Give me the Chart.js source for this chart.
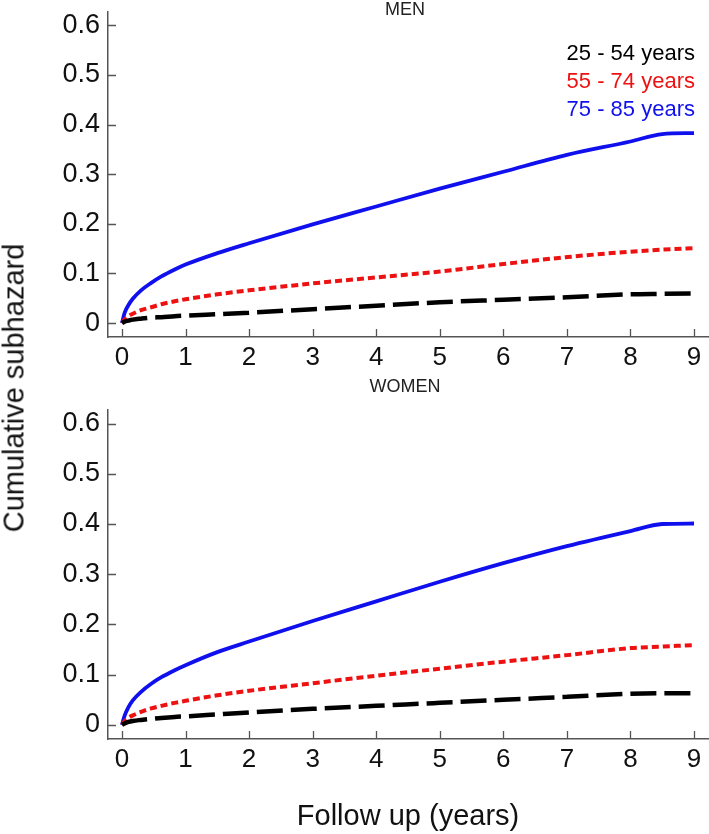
<!DOCTYPE html>
<html>
<head>
<meta charset="utf-8">
<script src="https://cdn.jsdelivr.net/npm/chart.js@4.4.1/dist/chart.umd.min.js"></script>
<style>
  html, body { margin: 0; padding: 0; background: #fff; }
  #wrap { position: relative; width: 709px; height: 834px; }
  .panel { position: absolute; left: 0; width: 709px; }
  #men-box { top: 0; height: 380px; }
  #women-box { top: 360px; height: 474px; }
  #ytitle {
    position: absolute; left: 14px; top: 388px;
    transform: translate(-50%, -50%) rotate(-90deg);
    font: 29px "Liberation Sans", Arial, sans-serif; color: #111; white-space: nowrap;
  }
</style>
</head>
<body>
<div id="wrap">
  <div class="panel" id="men-box"><canvas id="men-chart"></canvas></div>
  <div class="panel" id="women-box"><canvas id="women-chart"></canvas></div>
  <div id="ytitle">Cumulative subhazard</div>
</div>
<script>
// --- Data ---
const years = [0, 0.04, 0.1, 0.17, 0.3, 0.46, 0.62, 0.83, 1, 1.5, 2, 3, 4, 5, 6, 7, 8, 8.5, 9];
const ageGroups = ['25 - 54 years', '55 - 74 years', '75 - 85 years'];

const men2554 = [0, 0.003, 0.005, 0.007, 0.009, 0.011, 0.012, 0.014, 0.015, 0.018, 0.021, 0.028, 0.035, 0.042, 0.047, 0.052, 0.058, 0.059, 0.060];
const men5574 = [0, 0.007, 0.014, 0.019, 0.026, 0.032, 0.038, 0.044, 0.048, 0.058, 0.066, 0.080, 0.092, 0.104, 0.119, 0.133, 0.144, 0.148, 0.151];
const men7585 = [0, 0.020, 0.036, 0.049, 0.066, 0.081, 0.094, 0.108, 0.118, 0.141, 0.161, 0.199, 0.235, 0.271, 0.305, 0.339, 0.366, 0.381, 0.383];

const women2554 = [0, 0.003, 0.006, 0.008, 0.010, 0.012, 0.014, 0.016, 0.017, 0.021, 0.025, 0.032, 0.038, 0.044, 0.050, 0.056, 0.062, 0.063, 0.063];
const women5574 = [0, 0.007, 0.014, 0.019, 0.026, 0.033, 0.038, 0.044, 0.048, 0.059, 0.068, 0.083, 0.098, 0.112, 0.126, 0.139, 0.153, 0.156, 0.159];
const women7585 = [0, 0.018, 0.035, 0.049, 0.066, 0.082, 0.095, 0.109, 0.119, 0.145, 0.166, 0.207, 0.246, 0.285, 0.322, 0.356, 0.386, 0.400, 0.401];

const xTicks = [0, 1, 2, 3, 4, 5, 6, 7, 8, 9];
const yTicks = [0, 0.1, 0.2, 0.3, 0.4, 0.5, 0.6];

// line looks per age group
const lineColors = ['#000000', '#ee1111', '#1010ee'];
const lineDashes = [[26, 8], [7, 4], []];
const lineWidths = [4.5, 4, 3.8];

const FONT = '"Liberation Sans", Arial, sans-serif';
const AXIS_COLOR = '#555';

// tick marks pointing into the plot, like the original figure
const inwardTicks = {
    id: 'inwardTicks',
    afterDatasetsDraw(chart) {
        const { ctx, chartArea, scales } = chart;
        ctx.save();
        ctx.strokeStyle = AXIS_COLOR;
        ctx.lineWidth = 1.3;
        ctx.beginPath();
        scales.x.ticks.forEach(t => {
            const px = Math.round(scales.x.getPixelForValue(t.value)) + 0.5;
            ctx.moveTo(px, chartArea.bottom);
            ctx.lineTo(px, chartArea.bottom - 8);
        });
        scales.y.ticks.forEach(t => {
            const py = Math.round(scales.y.getPixelForValue(t.value)) + 0.5;
            ctx.moveTo(chartArea.left, py);
            ctx.lineTo(chartArea.left + 8, py);
        });
        ctx.stroke();
        ctx.restore();
    }
};

// panel title + in-plot legend text
const panelText = {
    id: 'panelText',
    afterDraw(chart, args, opts) {
        const { ctx, chartArea } = chart;
        ctx.save();
        ctx.font = '18px ' + FONT;
        ctx.fillStyle = '#222';
        ctx.textAlign = 'center';
        ctx.textBaseline = 'alphabetic';
        ctx.fillText(opts.title, (chartArea.left + chartArea.right) / 2 - 3, chartArea.top + opts.titleShift);
        if (opts.legend) {
            ctx.font = '22px ' + FONT;
            ctx.textAlign = 'right';
            ctx.textBaseline = 'middle';
            chart.data.datasets.forEach((ds, i) => {
                ctx.fillStyle = ds.borderColor;
                ctx.fillText(ds.label, chartArea.right - 13, chartArea.top + 42 + i * 28);
            });
        }
        ctx.restore();
    }
};

function buildDatasets(series) {
    return series.map((vals, i) => ({
        label: ageGroups[i],
        data: years.map((x, j) => ({ x: x, y: vals[j] })),
        borderColor: lineColors[i],
        borderDash: lineDashes[i],
        borderWidth: lineWidths[i],
        pointRadius: 0,
        fill: false,
        cubicInterpolationMode: 'monotone'
    }));
}

function makeChart(canvasId, series, cfg) {
    return new Chart(document.getElementById(canvasId), {
        type: 'line',
        data: { datasets: buildDatasets(series) },
        options: {
            responsive: true,
            maintainAspectRatio: false,
            animation: false,
            layout: { padding: { top: cfg.topPad, right: 1, left: 0, bottom: 0 } },
            plugins: {
                legend: { display: false },
                tooltip: { enabled: false },
                panelText: { title: cfg.title, titleShift: cfg.titleShift, legend: cfg.legend }
            },
            scales: {
                x: {
                    type: 'linear',
                    min: -0.22, max: 9.22,
                    afterBuildTicks: (scale) => { scale.ticks = xTicks.map(v => ({ value: v })); },
                    afterFit: (scale) => {
                        scale.height = cfg.xHeight;
                        scale.paddingLeft = 0; scale.paddingRight = 0;
                    },
                    border: { color: AXIS_COLOR, width: 1.5 },
                    grid: { drawOnChartArea: false, drawTicks: false },
                    ticks: { color: '#111', font: { family: FONT, size: 26 }, padding: 5, maxRotation: 0,
                        callback: (v) => String(v) },
                    title: {
                        display: !!cfg.xTitle, text: cfg.xTitle || '', color: '#111',
                        font: { family: FONT, size: 29 }, padding: { top: 0, bottom: 0 }
                    }
                },
                y: {
                    min: -0.028, max: 0.627,
                    afterBuildTicks: (scale) => { scale.ticks = yTicks.map(v => ({ value: v })); },
                    afterFit: (scale) => {
                        scale.width = 108;
                        scale.paddingTop = 0; scale.paddingBottom = 0;
                    },
                    border: { color: AXIS_COLOR, width: 1.5 },
                    grid: { drawOnChartArea: false, drawTicks: false },
                    ticks: { color: '#111', font: { family: FONT, size: 27 }, padding: 8,
                        callback: (v) => v === 0 ? '0' : v.toFixed(1) }
                }
            }
        },
        plugins: [inwardTicks, panelText]
    });
}

makeChart('men-chart', [men2554, men5574, men7585],
    { title: 'MEN', titleShift: 3, legend: true, topPad: 12, xHeight: 43 });
makeChart('women-chart', [women2554, women5574, women7585],
    { title: 'WOMEN', titleShift: -18, legend: false, topPad: 50, xHeight: 95, xTitle: 'Follow up (years)' });
</script>
</body>
</html>
